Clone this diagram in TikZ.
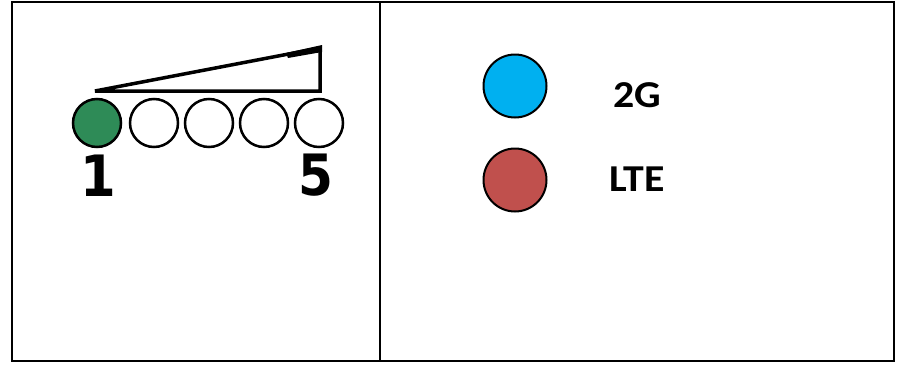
\documentclass[tikz,border=0pt]{standalone}
\usepackage{fontspec}
\usepackage{graphicx}
\setmainfont{Carlito}
\newfontfamily\digitfont{DejaVu Sans}
\definecolor{dotgreen}{HTML}{2E8B57}
\definecolor{dotblue}{HTML}{00B0F0}
\definecolor{dotred}{HTML}{C0504D}
\begin{document}
\begin{tikzpicture}[x=1pt,y=-1pt,
  slot/.style={circle,draw=black,line width=2.5pt,minimum size=48pt,inner sep=0pt,fill=white},
  legenddot/.style={circle,draw=black,line width=2pt,minimum size=63pt,inner sep=0pt},
  legendtext/.style={font=\fontsize{38}{40}\selectfont\bfseries,inner sep=0pt},
  digit/.style={font=\digitfont\fontsize{57}{60}\selectfont\bfseries,inner sep=0pt},
  frame/.style={draw=black,line width=2.2pt}]
\useasboundingbox (0,0) rectangle (897,367);
\fill[white] (0,0) rectangle (897,367);
\draw[frame] (12,2) rectangle (894,361);
\draw[frame] (380,2) -- (380,361);
% wedge
\coordinate (w1) at (95,91);
\coordinate (w2) at (320,48);
\coordinate (w3) at (320,91);
\draw[line width=3.5pt,line join=miter] (w1) -- (w2) -- (w3) -- cycle;
\fill[black] (286,53) -- (322,45) -- (322,52) -- (288,58) -- cycle;
% slots
\node[slot,fill=dotgreen] (s1) at (97,123) {};
\node[slot] (s2) at (154,123) {};
\node[slot] (s3) at (209,123) {};
\node[slot] (s4) at (264,123) {};
\node[slot] (s5) at (319,123) {};
\node[digit] (d1) at (98,176) {\scalebox{0.9}[1]{1}};
\node[digit] (d5) at (316,175) {\scalebox{0.88}[1]{5}};
% legend
\node[legenddot,fill=dotblue] (b) at (515,86) {};
\node[legenddot,fill=dotred] (r) at (515,180) {};
\node[legendtext] (t1) at (637,95) {\scalebox{1.1}[1]{2G}};
\node[legendtext] (t2) at (637,179) {\scalebox{1.1}[1]{LTE}};
\end{tikzpicture}
\end{document}
